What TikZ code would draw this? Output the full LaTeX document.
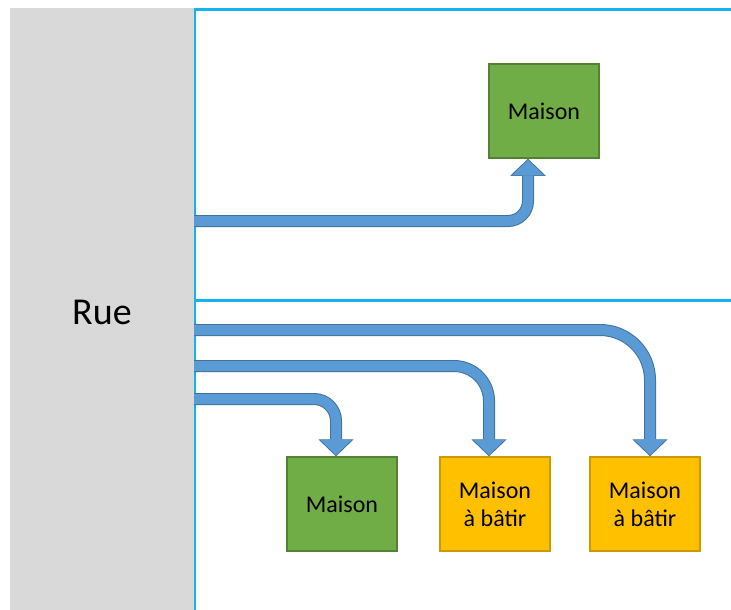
\documentclass[tikz,border=0pt]{standalone}
\usepackage{fontspec}
\setmainfont{Carlito}
\usetikzlibrary{arrows.meta}

\definecolor{streetgray}{HTML}{D9D9D9}
\definecolor{lotline}{HTML}{14B4F0}
\definecolor{flowfill}{HTML}{5B9BD5}
\definecolor{flowedge}{HTML}{41719C}
\definecolor{housefill}{HTML}{70AD47}
\definecolor{houseedge}{HTML}{548235}
\definecolor{plotfill}{HTML}{FFC000}
\definecolor{plotedge}{HTML}{C99A06}

\tikzset{
  street/.style={fill=streetgray, draw=none, minimum width=185pt, minimum height=602pt,
    inner sep=0pt, text height=30pt, text depth=0pt, font=\fontsize{38}{44}\selectfont},
  lot/.style={draw=lotline, line width=2.5pt},
  building/.style={minimum width=110pt, minimum height=94pt, inner sep=0pt, line width=1.5pt,
    align=center, font=\fontsize{24}{28}\selectfont},
  house/.style={building, fill=housefill, draw=houseedge},
  plot/.style={building, fill=plotfill, draw=plotedge},
  flow/.style={draw=flowfill, line width=10pt, shorten >=1.2pt,
    -{Triangle[width=32pt, length=15.5pt, line width=0pt]},
    preaction={draw=flowedge, line width=12pt, shorten >=0pt,
      -{Triangle[width=35.5pt, length=17pt, line width=0pt]}}},
}

\begin{document}
\begin{tikzpicture}[x=1pt, y=-1pt]
  \useasboundingbox (0,0) rectangle (731,610);

  % the street
  \node[street] (rue) at (102,309) {Rue};

  % lot boundaries
  \draw[lot] (195,610) -- (195,9.5) -- (731,9.5);
  \draw[lot] (195,300.5) -- (731,300.5);

  % buildings
  \node[house] (m0) at (544,111) {Maison};
  \node[house] (m1) at (342,504) {Maison};
  \node[plot]  (m2) at (495,504) {Maison\\à bâtir};
  \node[plot]  (m3) at (645,504) {Maison\\à bâtir};

  % access points on the street
  \coordinate (s0) at (194,221);
  \coordinate (s1) at (194,399);
  \coordinate (s2) at (194,366);
  \coordinate (s3) at (194,330);

  % access paths
  \draw[flow, rounded corners=20pt] (s0) -| ([xshift=-16pt]m0.south);
  \draw[flow, rounded corners=50pt] (s3) -| ([xshift=5pt]m3.north);
  \draw[flow, rounded corners=35pt] (s2) -| ([xshift=-6pt]m2.north);
  \draw[flow, rounded corners=22pt] (s1) -| ([xshift=-6pt]m1.north);
\end{tikzpicture}
\end{document}
